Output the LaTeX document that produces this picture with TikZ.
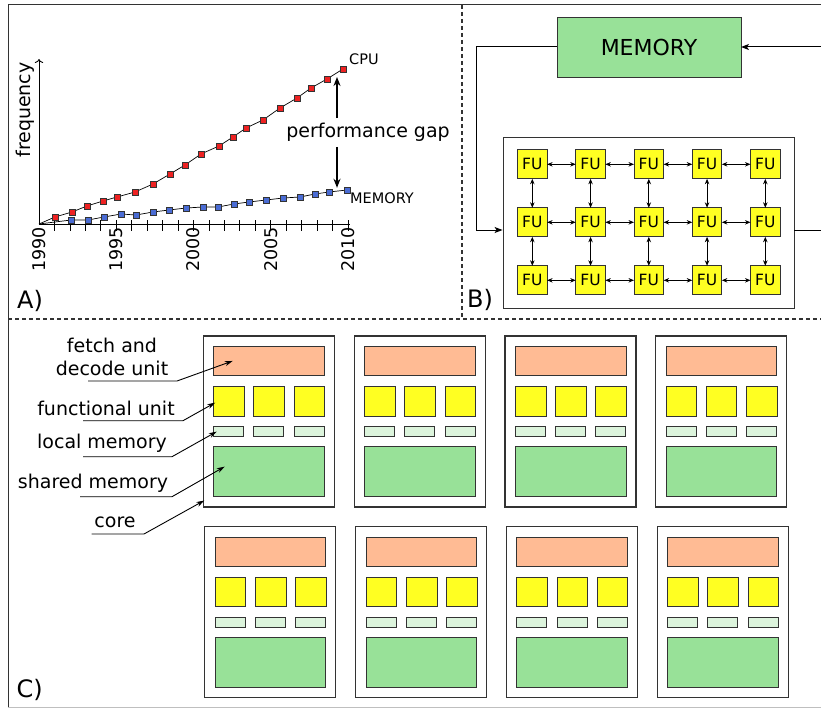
\documentclass[tikz,border=0pt]{standalone}
\usepackage{fontspec}
\setmainfont{DejaVu Sans}
\usetikzlibrary{arrows.meta}

\definecolor{memgreen}{HTML}{98E198}
\definecolor{fuyellow}{HTML}{FFFF22}
\definecolor{fetchorange}{HTML}{FFBB94}
\definecolor{localgreen}{HTML}{DCF4DC}
\definecolor{cpured}{HTML}{EE2222}
\definecolor{memblue}{HTML}{4A6CD4}
\definecolor{edge}{HTML}{333333}

\newcommand\fs[1]{\fontsize{#1}{#1}\selectfont}

\def\cpudata{55/217, 72/212, 87/206, 103/201, 117/197, 135/192, 153/184,
  170/174, 185/165, 201/154, 219/146, 233/137, 246/128, 263/120, 280/108,
  297/98, 311/88, 327/79, 343/69}
\def\memdata{71/220, 88/220, 104/217, 121/214, 136/215, 153/212, 169/210,
  186/208, 203/207, 218/207, 234/204, 249/202, 266/200, 283/198, 300/197,
  315/194, 329/192, 347/190}

\begin{document}
\begin{tikzpicture}[x=1pt, y=-1pt,
  box/.style={draw=edge, line width=0.9pt, inner sep=0pt, outer sep=0pt},
  core/.style={box, line width=1.2pt, fill=white, minimum width=131pt, minimum height=171pt},
  fetchbox/.style={box, fill=fetchorange, minimum width=110.6pt, minimum height=29.3pt},
  fubox/.style={box, fill=fuyellow, minimum width=30.6pt, minimum height=29.7pt},
  lmbox/.style={box, fill=localgreen, minimum width=30pt, minimum height=10pt},
  shbox/.style={box, fill=memgreen, minimum width=110.6pt, minimum height=50pt},
  fu/.style={box, fill=fuyellow, minimum width=29.6pt, minimum height=29pt, font=\fs{15.5}},
  cpumark/.style={draw=edge, fill=cpured, line width=0.6pt, inner sep=0pt, minimum size=6pt},
  memmark/.style={draw=edge, fill=memblue, line width=0.6pt, inner sep=0pt, minimum size=6pt},
  year/.style={rotate=90, anchor=east, inner sep=0pt, font=\fs{17.5}},
  lbl/.style={inner sep=0pt, align=center, font=\fontsize{19}{23}\selectfont},
  panel/.style={inner sep=0pt, anchor=west, font=\fs{24}},
  sep/.style={edge, line width=1.1pt, dash pattern=on 4pt off 3pt},
  link/.style={line width=0.8pt, {Stealth[length=5.5pt,width=4.5pt]}-{Stealth[length=5.5pt,width=4.5pt]}},
  flow/.style={line width=1pt, -{Stealth[length=8pt,width=6pt,inset=2pt]}},
  pointer/.style={line width=0.9pt, -{Stealth[length=8pt,width=5pt]}},
  gaparrow/.style={line width=2pt, -{Stealth[length=9pt,width=7pt]}}]

  \useasboundingbox (0,0) rectangle (821,709);
  \clip (0,0) rectangle (821,709);

  % frame and panel separators
  \draw[edge, line width=1pt] (830,5) -- (8,5) -- (8,707);
  \draw[gray!50, line width=1pt] (8,707) -- (830,707);
  \draw[sep] (8,319) -- (830,319);
  \draw[sep] (462,5) -- (462,319);

  % A) frequency chart
  \coordinate (o) at (39,224);
  \draw[line width=0.9pt, -{To[length=4pt]}] (o) -- (39,59);
  \draw[line width=0.9pt] (o) -- (350,224);
  \foreach \i in {1,...,20}
    \draw[line width=0.8pt] (39+15.45*\i,220) -- (39+15.45*\i,231);
  \foreach \yr/\px in {1990/39, 1995/116.3, 2000/193.5, 2005/270.8, 2010/348}
    \node[year] at (\px,227) {\yr};
  \node[rotate=90, inner sep=0pt, font=\fs{19}] (freq) at (25,110) {frequency};

  \draw[line width=0.7pt] (o) \foreach \x/\y in \cpudata { -- (\x,\y) };
  \draw[line width=0.7pt] (o) \foreach \x/\y in \memdata { -- (\x,\y) };
  \foreach \x/\y in \cpudata \node[cpumark] at (\x,\y) {};
  \foreach \x/\y in \memdata \node[memmark] at (\x,\y) {};

  \node[inner sep=0pt, anchor=west, font=\fs{14.5}] (cpu) at (349,59) {CPU};
  \node[inner sep=0pt, anchor=west, font=\fs{14.5}] (memlbl) at (350,198) {MEMORY};
  \node[inner sep=0pt, font=\fs{19}] (gap) at (368,132.4) {performance gap};
  \draw[gaparrow] ([xshift=-31pt,yshift=5pt]gap.north) -- ++(0,-41);
  \draw[gaparrow] ([xshift=-31pt,yshift=-5pt]gap.south) -- ++(0,41);
  \node[panel] (pa) at (17,301) {A)};

  % B) memory and FU array
  \node[box, fill=memgreen, minimum width=184pt, minimum height=60pt, font=\fs{22}] (mem) at (649,47) {MEMORY};
  \node[draw=edge, line width=0.9pt, minimum width=291pt, minimum height=171pt] (fugrid) at (648.5,222.5) {};
  \foreach \r in {1,2,3}
    \foreach \c in {1,...,5}
      \node[fu] (fu-\r-\c) at (532.3+58.25*\c-58.25,164.3+58*\r-58) {FU};
  \foreach \r in {1,2,3}
    \foreach \c/\d in {1/2, 2/3, 3/4, 4/5}
      \draw[link] (fu-\r-\c) -- (fu-\r-\d);
  \foreach \c in {1,...,5}
    \foreach \r/\s in {1/2, 2/3}
      \draw[link] (fu-\r-\c) -- (fu-\s-\c);
  \draw[flow] (mem.west) -- ++(-81,0) |- ([yshift=-7.5pt]fugrid.west);
  \draw[flow] ([yshift=-7.5pt]fugrid.east) -- ++(40,0) |- (mem.east);
  \node[panel] (pb) at (467,300) {B)};

  % C) many cores
  \foreach \r/\y/\dx in {1/336/0, 2/526.7/1.5} {
    \foreach \c/\x in {1/203.3, 2/354.3, 3/505, 4/655.7} {
      \node[core, anchor=north west] (c\r\c) at (\x+\dx,\y) {};
      \node[fetchbox, anchor=north west] (c\r\c-fd) at (\x+\dx+10.4,\y+10.3) {};
      \foreach \k in {0,1,2} {
        \node[fubox, anchor=north west] (c\r\c-fu\k) at (\x+\dx+10.4+40.2*\k,\y+50.3) {};
        \node[lmbox, anchor=north west] (c\r\c-lm\k) at (\x+\dx+10.4+40.2*\k,\y+90.6) {};
      }
      \node[shbox, anchor=north west] (c\r\c-sh) at (\x+\dx+10.4,\y+110.6) {};
    }
  }

  \node[lbl] (lfd) at (112,356.5) {fetch and\\decode unit};
  \node[lbl] (lfu) at (106,408) {functional unit};
  \node[lbl] (llm) at (102,443) {local memory};
  \node[lbl] (lsh) at (93,483) {shared memory};
  \node[lbl] (lcore) at (115,522.7) {core};
  \draw[pointer] (88,381) -- (177,381) -- ([xshift=19pt]c11-fd.west);
  \draw[pointer] (83,420.7) -- (183,420.7) -- ([xshift=1.5pt,yshift=-1.5pt]c11-fu0.west);
  \draw[pointer] (83,456.7) -- (172,456.7) -- ([xshift=3pt]c11-lm0.west);
  \draw[pointer] (80,496.7) -- (172,496.7) -- ([xshift=11pt,yshift=5pt]c11-sh.west);
  \draw[pointer] (91.6,534) -- (144,534) -- ([xshift=1pt,yshift=6.5pt]c11.south west);
  \node[panel] (pc) at (16.5,690) {C)};
\end{tikzpicture}
\end{document}
